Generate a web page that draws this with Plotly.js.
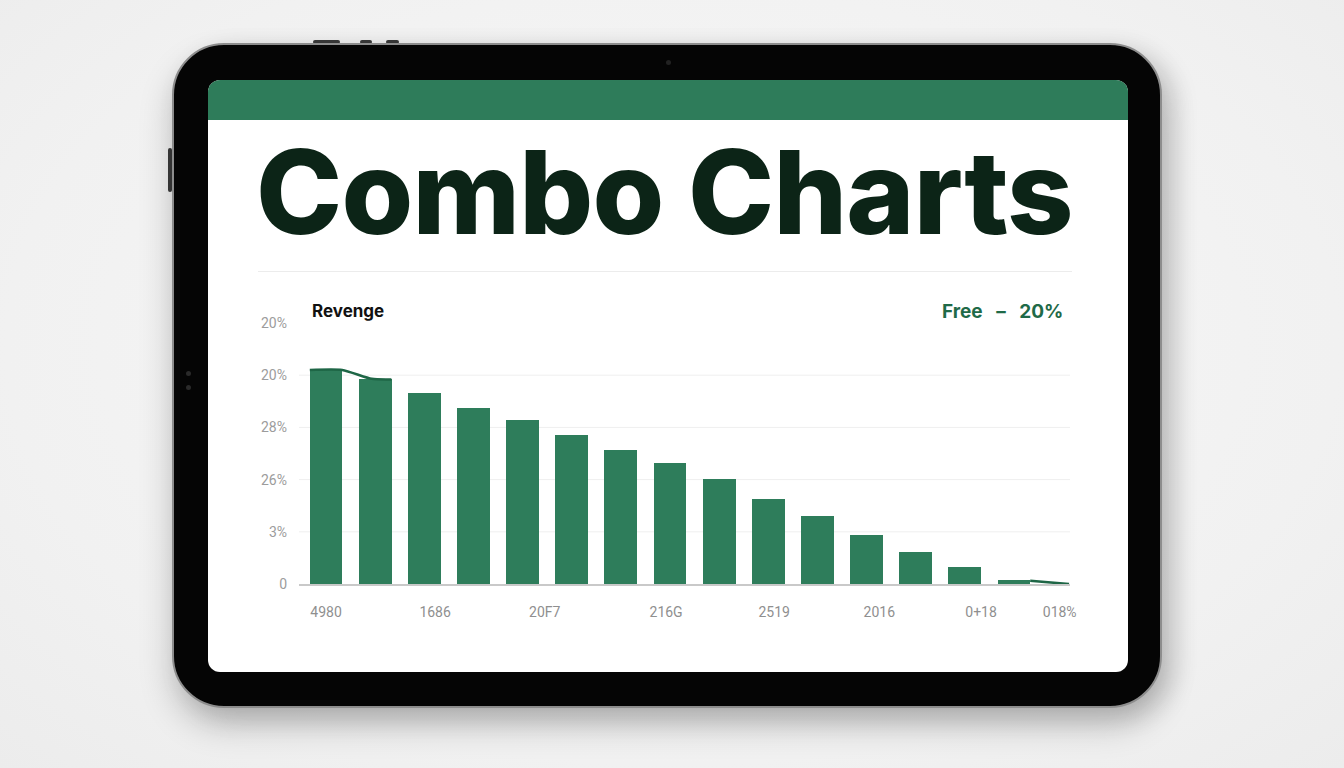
<!DOCTYPE html>
<html>
<head>
<meta charset="utf-8">
<script src="https://cdn.plot.ly/plotly-3.0.1.min.js"></script>
<style>
  html, body { margin: 0; padding: 0; }
  body {
    width: 1344px; height: 768px; overflow: hidden; position: relative;
    background: radial-gradient(ellipse at 50% 45%, #f8f8f8 0%, #f1f1f1 70%, #ececec 100%);
    font-family: Inter, "Noto Sans", sans-serif;
  }
  .tablet {
    position: absolute; left: 172px; top: 43px; width: 986px; height: 661px;
    background: #050505; border: 2px solid #8d8d8d; border-radius: 52px;
    box-shadow: 0 18px 34px rgba(0,0,0,0.20), 12px 8px 26px rgba(0,0,0,0.14);
  }
  .btn { position: absolute; background: #3a3a3a; border-radius: 2px; }
  .screen {
    position: absolute; left: 208px; top: 80px; width: 920px; height: 592px;
    background: #fff; border-radius: 12px; overflow: hidden;
  }
  .header { position: absolute; left: 0; top: 0; width: 920px; height: 40px; background: #2e7c5a; }
  .title {
    position: absolute; left: 48px; top: 54px; margin: 0;
    font-family: Inter, sans-serif; font-weight: 800; font-size: 116px;
    color: #0c2417; letter-spacing: -0.8px; white-space: nowrap; line-height: 1;
  }
  .sep { position: absolute; left: 50px; top: 191px; width: 814px; height: 1px; background: #ececec; }
  #chart { position: absolute; left: 0; top: 40px; width: 920px; height: 552px; }
</style>
</head>
<body>
<div class="btn" style="left:313px;top:40px;width:27px;height:4px"></div>
<div class="btn" style="left:360px;top:40px;width:12px;height:4px"></div>
<div class="btn" style="left:386px;top:40px;width:13px;height:4px"></div>
<div class="btn" style="left:168px;top:148px;width:4px;height:44px"></div>
<div class="tablet"></div>
<div class="btn" style="left:666px;top:60px;width:5px;height:5px;border-radius:50%;background:#222"></div>
<div class="btn" style="left:186px;top:371px;width:5px;height:5px;border-radius:50%;background:#2a2a2a"></div>
<div class="btn" style="left:186px;top:385px;width:5px;height:5px;border-radius:50%;background:#2a2a2a"></div>
<div class="screen">
  <div class="header"></div>
  <h1 class="title">Combo Charts</h1>
  <div class="sep"></div>
  <div id="chart"></div>
</div>
<script>
// bar positions (category index) and heights in gridline units
const barX = [0, 1, 2, 3, 4, 5, 6, 7, 8, 9, 10, 11, 12, 13, 14];
const barY = [4.10, 3.92, 3.65, 3.38, 3.14, 2.85, 2.57, 2.31, 2.02, 1.63, 1.31, 0.93, 0.61, 0.33, 0.07];

// trend line overlay (only visible pieces at start and end)
const lineX = [-0.33, 0.33, 0.93, 1.33, null, 14.33, 15.12];
const lineY = [4.10, 4.10, 3.93, 3.92, null, 0.06, 0.0];

const yTickVals = [0, 1, 2, 3, 4, 5];
const yTickText = ["0", "3%", "26%", "28%", "20%", "20%"];
const gridVals = [1, 2, 3, 4];

const xTickVals = [0, 2.22, 4.45, 6.92, 9.12, 11.26, 13.33, 14.93];
const xTickText = ["4980", "1686", "20F7", "216G", "2519", "2016", "0+18", "018%"];

const traces = [];

traces.push({
  type: "bar",
  x: barX,
  y: barY,
  width: 0.67,
  marker: { color: "#2e7d5b", line: { width: 0 } },
  hoverinfo: "skip",
  showlegend: false
});

traces.push({
  type: "scatter",
  mode: "lines",
  x: lineX,
  y: lineY,
  connectgaps: false,
  line: { color: "#1e6646", width: 2.5, shape: "spline", smoothing: 0.6 },
  hoverinfo: "skip",
  showlegend: false
});

const shapes = gridVals.map(v => ({
  type: "line", xref: "paper", yref: "y",
  x0: 0, x1: 1, y0: v, y1: v,
  line: { color: "#efefef", width: 1 },
  layer: "below"
}));

Plotly.newPlot("chart", traces, {
  width: 920,
  height: 552,
  margin: { l: 91, r: 58, t: 203, b: 88 },
  paper_bgcolor: "rgba(0,0,0,0)",
  plot_bgcolor: "rgba(0,0,0,0)",
  bargap: 0,
  xaxis: {
    range: [-0.55, 15.14],
    tickvals: xTickVals,
    ticktext: xTickText,
    tickfont: { family: "Roboto, sans-serif", size: 14, color: "#8f8f8f" },
    ticks: "",
    ticklabelstandoff: 15,
    showgrid: false,
    zeroline: false,
    showline: true,
    linecolor: "#c9c9c9",
    linewidth: 1.5
  },
  yaxis: {
    range: [0, 5],
    tickvals: yTickVals,
    ticktext: yTickText,
    tickfont: { family: "Roboto, sans-serif", size: 14, color: "#9c9c9c" },
    ticks: "",
    ticklabelstandoff: 11,
    showgrid: false,
    zeroline: false,
    showline: false
  },
  shapes: shapes,
  annotations: [
    {
      text: "<b>Revenge</b>", xref: "paper", yref: "paper",
      x: 0.014, y: 1, xanchor: "left", yanchor: "middle", yshift: 12,
      showarrow: false,
      font: { family: "Inter, sans-serif", size: 17, color: "#111" }
    },
    {
      text: "<b>Free&nbsp;&nbsp; –&nbsp;&nbsp; 20%</b>", xref: "paper", yref: "paper",
      x: 0.9935, y: 1, xanchor: "right", yanchor: "middle", yshift: 12,
      showarrow: false,
      font: { family: "Inter, sans-serif", size: 19, color: "#1f6a48" }
    }
  ]
}, { displayModeBar: false, staticPlot: true });
</script>
</body>
</html>
